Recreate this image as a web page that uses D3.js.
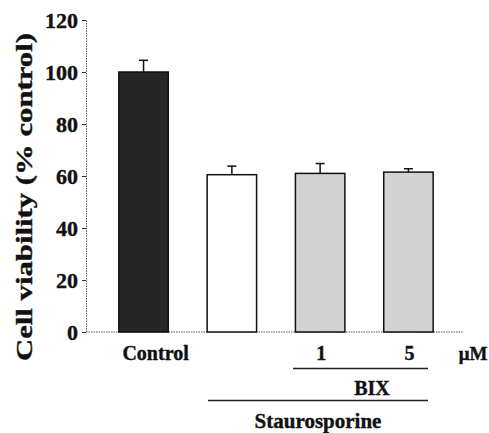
<!DOCTYPE html>
<html><head><meta charset="utf-8">
<script src="https://cdn.jsdelivr.net/npm/d3@7/dist/d3.min.js"></script>
<style>
html,body{margin:0;padding:0;background:#fff;}
</style></head>
<body><svg id="c" width="489" height="433"></svg>
<script>
const categories = ["Control", "Staurosporine", "BIX1", "BIX5"];
const catLabels = ["Control", "", "1", "5"];
const values = [100, 60.5, 61, 61.5];
const errors = [4.5, 3.3, 3.8, 1.3];
const fills = ["#262626", "#ffffff", "#d3d3d3", "#d3d3d3"];
const yTicks = [0, 20, 40, 60, 80, 100, 120];

const FONT = "Liberation Serif";
const svg = d3.select("#c");
function txt(sel, size) {
  return sel.attr("font-family", FONT).attr("font-weight", "bold").attr("font-size", size)
    .attr("fill", "#111").attr("stroke", "#111").attr("stroke-width", 0.4);
}
const x = d3.scaleBand().domain(categories).range([80, 472]).paddingInner(0.44).paddingOuter(0.44);
const y = d3.scaleLinear().domain([0, 120]).range([332, 20]);
const axisX = 86;

// y axis
const ya = svg.append("g").attr("transform", `translate(${axisX},0)`)
  .call(d3.axisLeft(y).tickValues(yTicks).tickSize(4).tickPadding(4).tickFormat(d3.format("d")));
ya.attr("font-family", FONT);
ya.select(".domain").attr("stroke", "#555").attr("stroke-dasharray", "1.5,1");
ya.selectAll(".tick line").attr("stroke", "#333");
txt(ya.selectAll(".tick text"), 22).attr("dy", "0.34em");

// baseline
svg.append("line").attr("x1", axisX).attr("x2", 463).attr("y1", y(0)).attr("y2", y(0))
  .attr("stroke", "#555").attr("stroke-dasharray", "1.5,1");

// bars
svg.selectAll("rect.bar").data(values).join("rect").attr("class", "bar")
  .attr("x", (d, i) => x(categories[i]))
  .attr("y", d => y(d))
  .attr("width", x.bandwidth())
  .attr("height", d => y(0) - y(d))
  .attr("fill", (d, i) => fills[i])
  .attr("stroke", "#111").attr("stroke-width", 1.5);

// error bars
const eb = svg.selectAll("g.err").data(values).join("g").attr("class", "err");
eb.append("line")
  .attr("x1", (d, i) => x(categories[i]) + x.bandwidth() / 2)
  .attr("x2", (d, i) => x(categories[i]) + x.bandwidth() / 2)
  .attr("y1", d => y(d)).attr("y2", (d, i) => y(d + errors[i]))
  .attr("stroke", "#111").attr("stroke-width", 1.5);
eb.append("line")
  .attr("x1", (d, i) => x(categories[i]) + x.bandwidth() / 2 - 4.5)
  .attr("x2", (d, i) => x(categories[i]) + x.bandwidth() / 2 + 4.5)
  .attr("y1", (d, i) => y(d + errors[i])).attr("y2", (d, i) => y(d + errors[i]))
  .attr("stroke", "#111").attr("stroke-width", 1.5);

// category labels
txt(svg.selectAll("text.cat").data(catLabels).join("text").attr("class", "cat")
  .attr("x", (d, i) => x(categories[i]) + x.bandwidth() / 2 + (i === 0 ? 12 : 1))
  .attr("y", 360).attr("text-anchor", "middle").text(d => d), 20);
txt(svg.append("text").attr("x", 473).attr("y", 360).attr("text-anchor", "middle").text("μM"), 19);

// group brackets
svg.append("line").attr("x1", 293).attr("x2", 428).attr("y1", 368.5).attr("y2", 368.5).attr("stroke", "#222").attr("stroke-width", 1.5);
txt(svg.append("text").attr("x", 372).attr("y", 395).attr("text-anchor", "middle").text("BIX"), 20);
svg.append("line").attr("x1", 208).attr("x2", 428).attr("y1", 400.5).attr("y2", 400.5).attr("stroke", "#222").attr("stroke-width", 1.5);
txt(svg.append("text").attr("x", 318).attr("y", 428).attr("text-anchor", "middle").text("Staurosporine"), 21);

// y title
txt(svg.append("text").attr("transform", "translate(32,197) rotate(-90)").attr("text-anchor", "middle")
  .attr("textLength", 328).attr("lengthAdjust", "spacingAndGlyphs")
  .text("Cell viability (% control)"), 24);
</script></body></html>
